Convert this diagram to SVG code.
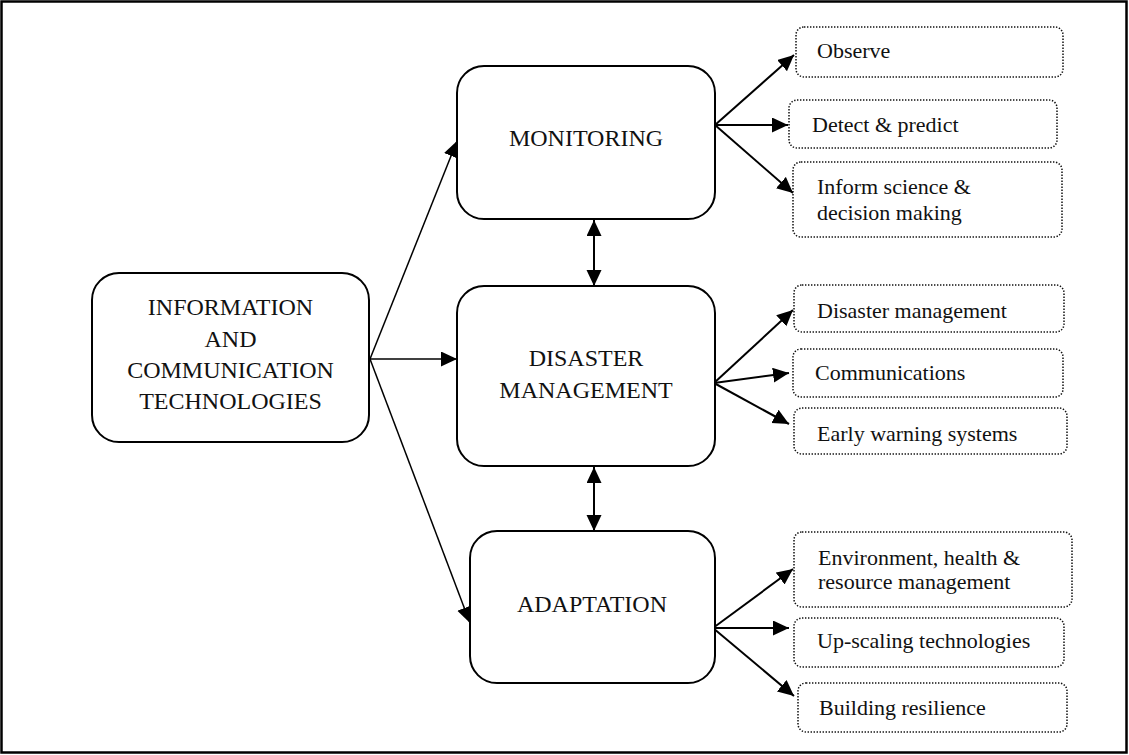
<svg xmlns="http://www.w3.org/2000/svg" width="1129" height="755" viewBox="0 0 1129 755">
  <defs>
    <marker id="head" markerUnits="userSpaceOnUse" markerWidth="17" markerHeight="16" refX="16" refY="7.5" orient="auto-start-reverse">
      <path d="M0,0 L16,7.5 L0,15 z" fill="#000"/>
    </marker>
  </defs>
  <style>
    .main { fill: #fff; stroke: #000; stroke-width: 2; }
    .sub { fill: #fff; stroke: #111; stroke-width: 1.5; stroke-dasharray: 1.4 1.6; }
    .big { font-family: "Liberation Serif", "Times New Roman", serif; font-size: 24px; fill: #111; text-anchor: middle; }
    .small { font-family: "Liberation Serif", "Times New Roman", serif; font-size: 22px; fill: #111; }
    .conn { stroke: #000; fill: none; marker-end: url(#head); }
    .thin { stroke-width: 1.5; }
    .thick { stroke-width: 2; }
    .both { marker-start: url(#head); }
  </style>

  <!-- frame -->
  <rect x="1.5" y="1.5" width="1125" height="751" fill="#fff" stroke="#000" stroke-width="2.5"/>

  <!-- connectors -->
  <g id="connectors">
    <line class="conn thin" x1="370" y1="359" x2="457" y2="141"/>
    <line class="conn thin" x1="370" y1="359" x2="457" y2="359"/>
    <line class="conn thin" x1="370" y1="359" x2="470" y2="623"/>
    <line class="conn thick both" x1="594" y1="220" x2="594" y2="286"/>
    <line class="conn thick both" x1="594" y1="467" x2="594" y2="531"/>
    <line class="conn thick" x1="715" y1="125" x2="794" y2="55"/>
    <line class="conn thick" x1="715" y1="125" x2="788" y2="125"/>
    <line class="conn thick" x1="715" y1="125" x2="793" y2="193"/>
    <line class="conn thick" x1="714" y1="383" x2="793" y2="310"/>
    <line class="conn thick" x1="714" y1="383" x2="789" y2="373"/>
    <line class="conn thick" x1="714" y1="383" x2="789" y2="424"/>
    <line class="conn thick" x1="713" y1="628" x2="793" y2="569"/>
    <line class="conn thick" x1="713" y1="628" x2="789" y2="628"/>
    <line class="conn thick" x1="713" y1="628" x2="794" y2="696"/>
  </g>

  <!-- main nodes -->
  <g id="ict">
    <rect class="main" x="92" y="273" width="277" height="169" rx="27"/>
    <text class="big" x="230.5" y="315">INFORMATION</text>
    <text class="big" x="230.5" y="347">AND</text>
    <text class="big" x="230.5" y="378">COMMUNICATION</text>
    <text class="big" x="230.5" y="409">TECHNOLOGIES</text>
  </g>
  <g id="monitoring">
    <rect class="main" x="457" y="66" width="258" height="153" rx="27"/>
    <text class="big" x="586" y="146">MONITORING</text>
  </g>
  <g id="disaster-management">
    <rect class="main" x="457" y="286" width="258" height="180" rx="27"/>
    <text class="big" x="586" y="366">DISASTER</text>
    <text class="big" x="586" y="398">MANAGEMENT</text>
  </g>
  <g id="adaptation">
    <rect class="main" x="470" y="531" width="245" height="152" rx="27"/>
    <text class="big" x="592" y="612">ADAPTATION</text>
  </g>

  <!-- monitoring outcomes -->
  <g id="observe">
    <rect class="sub" x="796" y="27" width="267" height="50" rx="8"/>
    <text class="small" x="817" y="58">Observe</text>
  </g>
  <g id="detect">
    <rect class="sub" x="789" y="100" width="268" height="48" rx="8"/>
    <text class="small" x="812" y="132">Detect &amp; predict</text>
  </g>
  <g id="inform">
    <rect class="sub" x="793" y="162" width="269" height="75" rx="8"/>
    <text class="small" x="817" y="194">Inform science &amp;</text>
    <text class="small" x="817" y="220">decision making</text>
  </g>

  <!-- disaster management outcomes -->
  <g id="disaster-mgmt">
    <rect class="sub" x="794" y="285" width="270" height="47" rx="8"/>
    <text class="small" x="817" y="318">Disaster management</text>
  </g>
  <g id="communications">
    <rect class="sub" x="793" y="349" width="270" height="48" rx="8"/>
    <text class="small" x="815" y="380">Communications</text>
  </g>
  <g id="early-warning">
    <rect class="sub" x="794" y="408" width="273" height="46" rx="8"/>
    <text class="small" x="817" y="441">Early warning systems</text>
  </g>

  <!-- adaptation outcomes -->
  <g id="environment">
    <rect class="sub" x="794" y="532" width="278" height="75" rx="8"/>
    <text class="small" x="818" y="565">Environment, health &amp;</text>
    <text class="small" x="818" y="589">resource management</text>
  </g>
  <g id="upscaling">
    <rect class="sub" x="794" y="618" width="270" height="49" rx="8"/>
    <text class="small" x="817" y="648">Up-scaling technologies</text>
  </g>
  <g id="resilience">
    <rect class="sub" x="798" y="683" width="269" height="49" rx="8"/>
    <text class="small" x="819" y="715">Building resilience</text>
  </g>
</svg>
